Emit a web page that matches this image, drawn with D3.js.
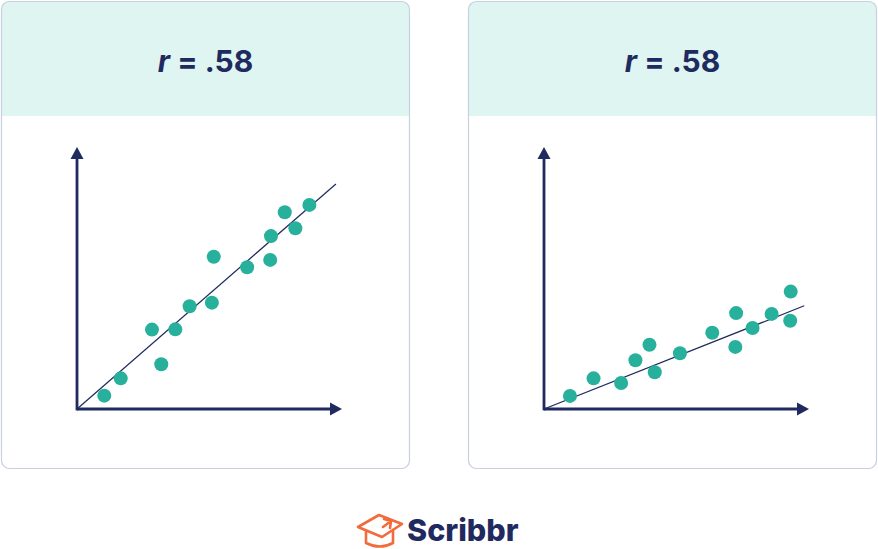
<!DOCTYPE html>
<html>
<head>
<meta charset="utf-8">
<script src="https://cdn.jsdelivr.net/npm/d3@7"></script>
<style>
  html, body { margin: 0; padding: 0; background: #ffffff; }
  svg { display: block; }
</style>
</head>
<body>
<svg id="chart" width="878" height="549"></svg>
<script>
// ---- data ----
const panelTitles = ["r = .58", "r = .58"];
const leftX  = [10.3, 16.5, 28.3, 31.8, 37.1, 42.5, 50.9, 51.6, 64.2, 72.9, 73.2, 78.4, 82.4, 87.7];
const leftY  = [5.1, 11.7, 30.3, 17.1, 30.4, 39.2, 40.6, 58.1, 54.1, 56.9, 66.0, 75.1, 69.0, 77.9];
const leftLine = [[0, 0], [97.7, 85.9]];
const rightX = [9.8, 18.7, 29.1, 34.5, 39.8, 41.8, 51.3, 63.5, 72.5, 72.2, 78.7, 85.9, 93.1, 92.9];
const rightY = [5.0, 11.7, 9.9, 18.6, 24.5, 14.0, 21.3, 29.1, 36.6, 23.7, 30.9, 36.3, 44.8, 33.7];
const rightLine = [[0, 0], [98.2, 39.4]];
const brand = "Scribbr";

// ---- style ----
const NAVY = "#1f2a5f";
const TEAL = "#27b09b";
const HEADER = "#dff5f2";
const BORDER = "#c8cfe0";
const ORANGE = "#f26b3a";

const svg = d3.select("#chart");

const panels = [
  { x0: 1, title: panelTitles[0], xs: leftX, ys: leftY, line: leftLine, ox: 77 },
  { x0: 468, title: panelTitles[1], xs: rightX, ys: rightY, line: rightLine, ox: 544 }
];

const panelW = 409, panelH = 468, headerH = 115;

panels.forEach((p, i) => {
  const g = svg.append("g");
  const clipId = "clip" + i;
  svg.append("clipPath").attr("id", clipId)
    .append("rect").attr("x", p.x0).attr("y", 1).attr("width", panelW).attr("height", panelH).attr("rx", 8);

  g.append("rect").attr("x", p.x0).attr("y", 1).attr("width", panelW).attr("height", panelH)
    .attr("rx", 8).attr("fill", "#ffffff");
  g.append("rect").attr("x", p.x0).attr("y", 1).attr("width", panelW).attr("height", headerH)
    .attr("fill", HEADER).attr("clip-path", `url(#${clipId})`);
  g.append("rect").attr("x", p.x0 + 0.5).attr("y", 1.5).attr("width", panelW - 1).attr("height", panelH - 1)
    .attr("rx", 8).attr("fill", "none").attr("stroke", BORDER).attr("stroke-width", 1.2);

  // title
  const t = g.append("text")
    .attr("x", p.x0 + panelW / 2).attr("y", 72)
    .attr("text-anchor", "middle")
    .attr("font-family", "Inter, 'Noto Sans', sans-serif")
    .attr("font-weight", 700).attr("font-size", 30)
    .attr("fill", NAVY);
  const parts = p.title.split(" ");
  t.append("tspan").attr("font-style", "italic").text(parts[0]);
  t.append("tspan").text(" " + parts.slice(1).join(" "));

  // scales
  const x = d3.scaleLinear().domain([0, 100]).range([p.ox, p.ox + 265]);
  const y = d3.scaleLinear().domain([0, 100]).range([409, 147]);

  // axes
  const axX = x(0), axY = y(0);
  g.append("line").attr("x1", axX).attr("y1", axY).attr("x2", x(100) - 10).attr("y2", axY)
    .attr("stroke", NAVY).attr("stroke-width", 2.8);
  g.append("line").attr("x1", axX).attr("y1", axY + 1.4).attr("x2", axX).attr("y2", y(100) + 10)
    .attr("stroke", NAVY).attr("stroke-width", 2.8);
  // arrowheads
  g.append("path")
    .attr("d", `M${x(100)},${axY} L${x(100) - 12},${axY - 6.5} L${x(100) - 12},${axY + 6.5} Z`)
    .attr("fill", NAVY);
  g.append("path")
    .attr("d", `M${axX},${y(100)} L${axX - 6.5},${y(100) + 12} L${axX + 6.5},${y(100) + 12} Z`)
    .attr("fill", NAVY);

  // regression line
  g.append("line")
    .attr("x1", x(p.line[0][0])).attr("y1", y(p.line[0][1]))
    .attr("x2", x(p.line[1][0])).attr("y2", y(p.line[1][1]))
    .attr("stroke", NAVY).attr("stroke-width", 1.2);

  // points
  g.selectAll("circle.pt").data(p.xs.map((d, k) => [d, p.ys[k]])).join("circle")
    .attr("class", "pt")
    .attr("cx", d => x(d[0])).attr("cy", d => y(d[1]))
    .attr("r", 7).attr("fill", TEAL);
});

// ---- logo ----
const logo = svg.append("g");
const ic = logo.append("g").attr("fill", "none").attr("stroke", ORANGE)
  .attr("stroke-width", 2.6).attr("stroke-linejoin", "round").attr("stroke-linecap", "round");
// mortarboard
ic.append("path").attr("d", "M358,527 L379,515 L402,524 L382,537 Z");
// cap bowl
ic.append("path").attr("d", "M366,532 L366,543 Q380,550 393,543 L393,530");
// tassel arrow
ic.append("path").attr("d", "M383,527 L391,521 L384,519 M391,521 L390,528");

logo.append("text")
  .attr("x", 407).attr("y", 541)
  .attr("font-family", "Inter, 'Noto Sans', sans-serif")
  .attr("font-weight", 800).attr("font-size", 30.5)
  .attr("fill", NAVY)
  .text(brand);
</script>
</body>
</html>
